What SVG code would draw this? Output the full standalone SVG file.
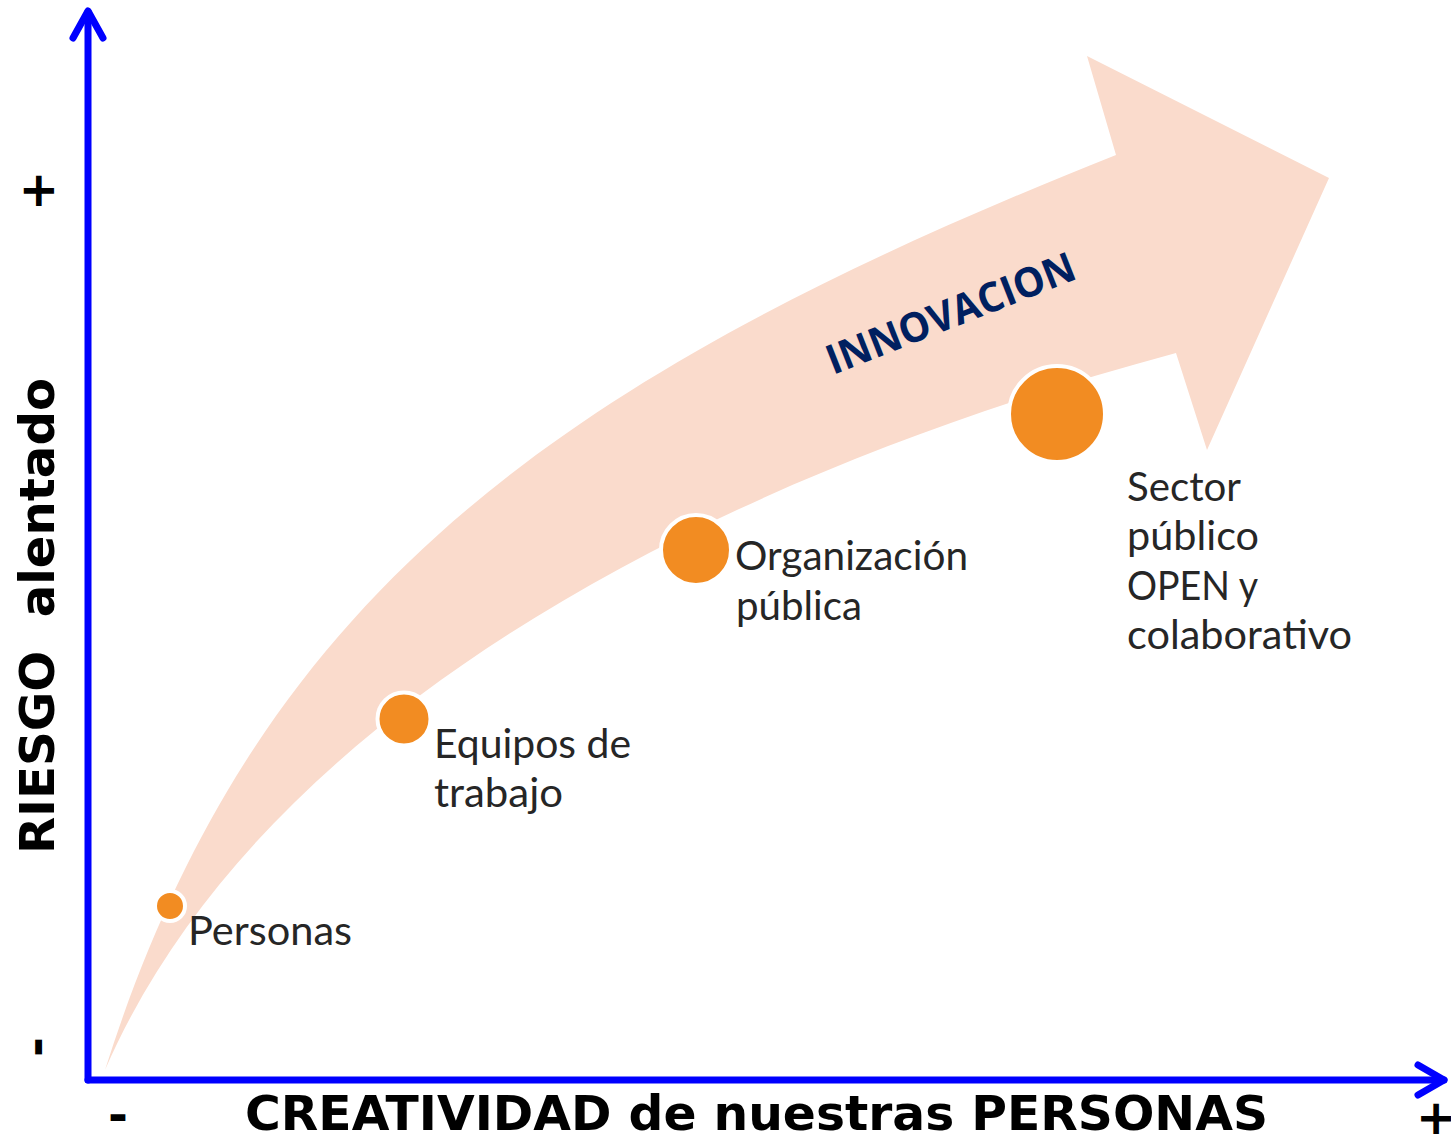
<svg xmlns="http://www.w3.org/2000/svg" width="1451" height="1137" viewBox="0 0 1451 1137">
<style>
.axis{fill:none;stroke:#0000FF;stroke-width:7;stroke-linecap:round;stroke-linejoin:round}
.axt{font-family:"DejaVu Sans",Verdana,sans-serif;font-weight:bold;font-size:48px;fill:#000}
.dot{fill:#F28C22;stroke:#FFFFFF;stroke-width:4}
.lbl{font-family:Lato,"Open Sans",sans-serif;font-size:40px;fill:#262626}
.inn{font-family:"Open Sans","Noto Sans",sans-serif;font-weight:bold;font-size:41px;fill:#002060}
</style>
<rect width="1451" height="1137" fill="#FFFFFF"/>
<g id="flow-arrow">
<path d="M105,1070 C255,595 558,377 1116,155 L1087,56 L1329,178 L1207,450 L1176,353 C694,483 257,720 105,1070 Z" fill="#FADBCC"/>
<text class="inn" transform="translate(833,375) rotate(-21.5)" textLength="264" lengthAdjust="spacingAndGlyphs">INNOVACION</text>
</g>
<g id="connectors">
<path class="axis" d="M88,1080 L88,12"/>
<path class="axis" d="M73,38 L88,11 L103,38"/>
<path class="axis" d="M88,1080 L1444,1080"/>
<path class="axis" d="M1418,1065 L1444,1080 L1418,1095"/>
</g>
<g id="y-axis-label">
<text class="axt" transform="translate(54,854) rotate(-90)" textLength="476" lengthAdjust="spacingAndGlyphs">RIESGO&#160;&#160;alentado</text>
<text class="axt" text-anchor="middle" transform="translate(54,191) rotate(-90)">+</text>
<text class="axt" text-anchor="middle" transform="translate(52,1047) rotate(-90)">-</text>
</g>
<g id="x-axis-label">
<text class="axt" x="245" y="1130" textLength="1023" lengthAdjust="spacingAndGlyphs">CREATIVIDAD de nuestras PERSONAS</text>
<text class="axt" x="118" y="1131" text-anchor="middle">-</text>
<text class="axt" x="1436" y="1134" text-anchor="middle">+</text>
</g>
<g id="node-personas">
<circle class="dot" cx="170" cy="906" r="15"/>
<text class="lbl" x="188" y="945" textLength="164" lengthAdjust="spacingAndGlyphs">Personas</text>
</g>
<g id="node-equipos">
<circle class="dot" cx="404" cy="719" r="26.5"/>
<text class="lbl" x="434" y="758" textLength="197" lengthAdjust="spacingAndGlyphs">Equipos de</text>
<text class="lbl" x="434" y="807" textLength="129" lengthAdjust="spacingAndGlyphs">trabajo</text>
</g>
<g id="node-organizacion">
<circle class="dot" cx="696" cy="550" r="35"/>
<text class="lbl" x="735" y="570" textLength="233" lengthAdjust="spacingAndGlyphs">Organización</text>
<text class="lbl" x="736" y="620" textLength="126" lengthAdjust="spacingAndGlyphs">pública</text>
</g>
<g id="node-sector">
<circle class="dot" cx="1057" cy="414" r="48"/>
<text class="lbl" x="1127" y="501" textLength="114" lengthAdjust="spacingAndGlyphs">Sector</text>
<text class="lbl" x="1127" y="550" textLength="132" lengthAdjust="spacingAndGlyphs">público</text>
<text class="lbl" x="1127" y="600" textLength="131" lengthAdjust="spacingAndGlyphs">OPEN y</text>
<text class="lbl" x="1127" y="649" textLength="225" lengthAdjust="spacingAndGlyphs">colaborativo</text>
</g>
</svg>
